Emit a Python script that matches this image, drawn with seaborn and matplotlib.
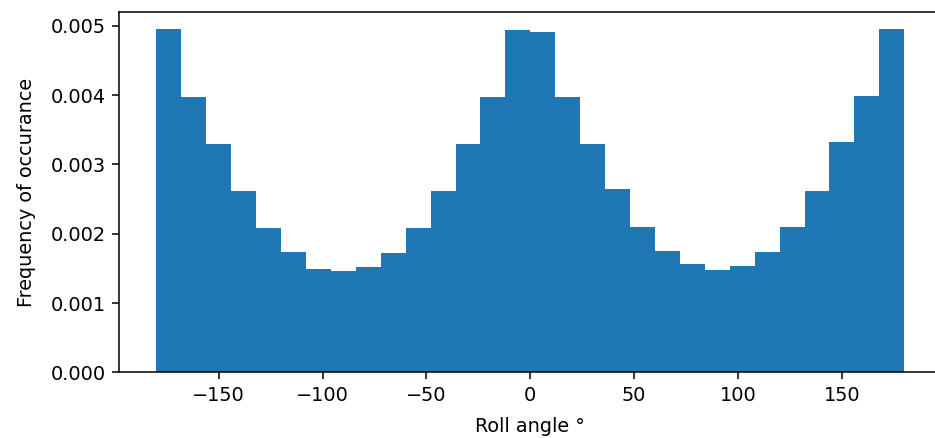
import numpy as np
import pandas as pd
import matplotlib
matplotlib.use("Agg")
import matplotlib.pyplot as plt
import seaborn as sns

# Histogram bin edges for roll angle (degrees) and the normalised frequency per bin
bin_edges = list(np.linspace(-180, 180, 31))
frequency = [
    0.004957, 0.003968, 0.003295, 0.002624, 0.002081, 0.001738,
    0.001497, 0.001464, 0.001517, 0.001720, 0.002081, 0.002624,
    0.003295, 0.003968, 0.004942, 0.004918, 0.003968, 0.003295,
    0.002640, 0.002104, 0.001757, 0.001561, 0.001478, 0.001540,
    0.001738, 0.002104, 0.002624, 0.003324, 0.003983, 0.004957,
]

edges = np.asarray(bin_edges)
centers = (edges[:-1] + edges[1:]) / 2
df = pd.DataFrame({"roll": centers, "freq": frequency})

scale = 1.39
fs = 10 * scale
plt.rcParams.update({
    "axes.linewidth": 0.8 * scale,
    "xtick.major.width": 0.8 * scale,
    "ytick.major.width": 0.8 * scale,
    "xtick.major.size": 3.5 * scale,
    "ytick.major.size": 3.5 * scale,
    "xtick.major.pad": 3.5 * scale,
    "ytick.major.pad": 3.5 * scale,
})

fig = plt.figure(figsize=(9.35, 4.38), dpi=100)
ax = fig.add_axes([119 / 935, 1 - 372.3 / 438, 822.6 / 935, (372.3 - 11.7) / 438])

# Filled step outline: one polygon, so no seams between neighbouring bins
sns.histplot(data=df, x="roll", weights="freq", bins=bin_edges, stat="count",
             element="step", color="#1f77b4", alpha=1, linewidth=0, ax=ax)

ax.set_xlim(-198, 198)
ax.spines["right"].set_visible(False)
ax.set_xlabel("Roll angle °", fontsize=fs, labelpad=8.5)
ax.set_ylabel("Frequency of occurance", fontsize=fs, labelpad=10)
ax.set_yticks([0, 0.001, 0.002, 0.003, 0.004, 0.005])
ax.set_yticklabels(["0.000", "0.001", "0.002", "0.003", "0.004", "0.005"])
ax.tick_params(labelsize=fs)

fig.savefig("out.png", dpi=100)
